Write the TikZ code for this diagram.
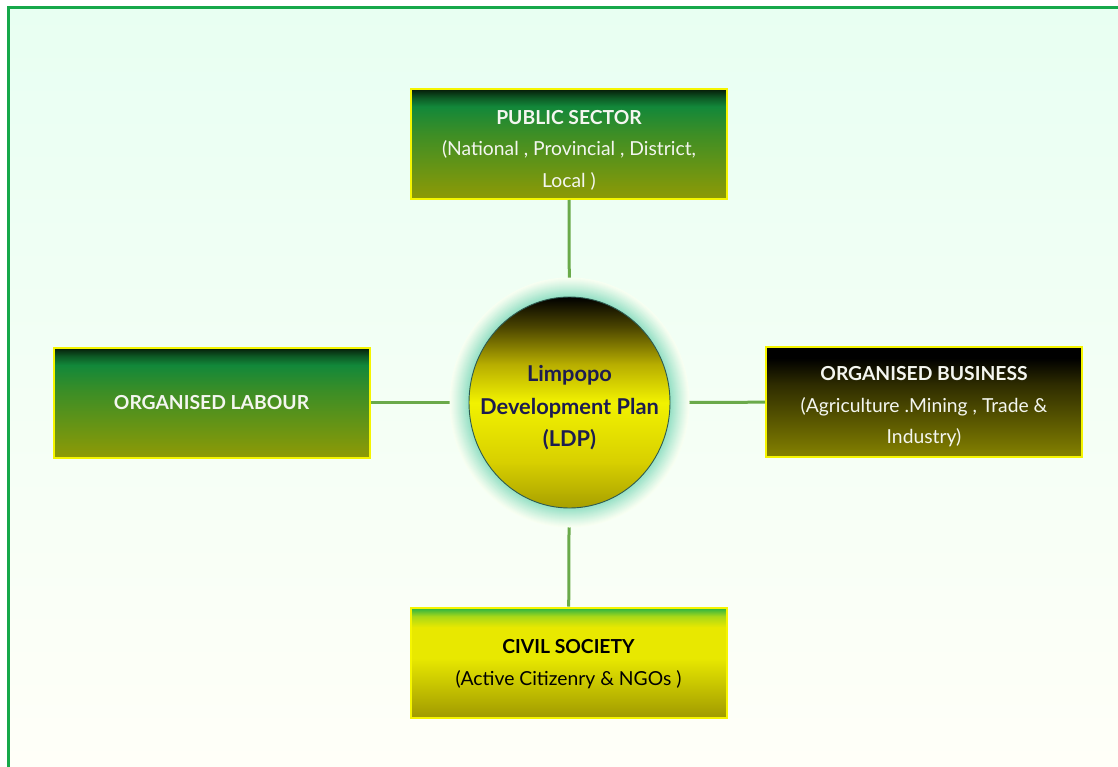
\documentclass[tikz,border=0pt]{standalone}
\usepackage{fontspec}
\setmainfont{Lato}
\usetikzlibrary{shapes.geometric}
\definecolor{bgtop}{HTML}{E8FFF2}
\definecolor{bgbot}{HTML}{FFFFF8}
\definecolor{bgmid}{HTML}{F8FFF2}
\definecolor{framegreen}{HTML}{16A84A}
\definecolor{boxborder}{HTML}{F5F500}
\definecolor{conncol}{HTML}{6AAA4A}
\definecolor{glowcol}{HTML}{8EDEC2}
\definecolor{ldpline}{HTML}{2E5A50}
\definecolor{navytext}{HTML}{1C1C50}
\definecolor{lighttext}{HTML}{F4F6F0}
\definecolor{pubtop}{HTML}{061A08}
\definecolor{pubdark}{HTML}{0D5A25}
\definecolor{pubgreen}{HTML}{12883A}
\definecolor{pubmid}{HTML}{3C8E26}
\definecolor{pubbot}{HTML}{8F9A05}
\definecolor{bustop}{HTML}{000000}
\definecolor{busmid}{HTML}{2E2C00}
\definecolor{busbot}{HTML}{858200}
\definecolor{civtop}{HTML}{20B048}
\definecolor{civmid}{HTML}{A8D818}
\definecolor{civyel}{HTML}{E8E800}
\definecolor{civbot}{HTML}{A09A00}
\definecolor{ldptop}{HTML}{000000}
\definecolor{ldpdark}{HTML}{4A4400}
\definecolor{ldpmid}{HTML}{B8AE00}
\definecolor{ldpyel}{HTML}{F2F200}
\definecolor{ldplow}{HTML}{D8D000}
\definecolor{ldpbot}{HTML}{A8A000}
\pgfdeclareverticalshading{pubshade}{100bp}{color(0bp)=(pubbot); color(25bp)=(pubbot); color(55bp)=(pubmid); color(67bp)=(pubgreen); color(71bp)=(pubdark); color(75bp)=(pubtop); color(100bp)=(pubtop)}
\pgfdeclareverticalshading{busshade}{100bp}{color(0bp)=(busbot); color(25bp)=(busbot); color(58bp)=(busmid); color(70bp)=(bustop); color(100bp)=(bustop)}
\pgfdeclareverticalshading{civshade}{100bp}{color(0bp)=(civbot); color(25bp)=(civbot); color(52bp)=(civyel); color(66bp)=(civyel); color(71bp)=(civmid); color(75bp)=(civtop); color(100bp)=(civtop)}
\pgfdeclareverticalshading{ldpshade}{100bp}{color(0bp)=(ldpbot); color(25bp)=(ldpbot); color(36bp)=(ldplow); color(50bp)=(ldpyel); color(59bp)=(ldpmid); color(68bp)=(ldpdark); color(75bp)=(ldptop); color(100bp)=(ldptop)}
\begin{document}
\begin{tikzpicture}[x=1pt,y=-1pt,
  box/.style={draw=boxborder, line width=2pt, rectangle, inner sep=0pt, minimum width=316pt, minimum height=110pt},
  conn/.style={draw=conncol, line width=3pt},
  lbl/.style={inner sep=0pt, align=center, font=\fontsize{19.3}{31.5}\selectfont},
]
\newcommand\hd[1]{{\bfseries\fontsize{19.3}{31.5}\selectfont #1}}
\useasboundingbox (0,0) rectangle (1118,767);
\clip (0,0) rectangle (1118,767);
\fill[white] (0,0) rectangle (1118,767);
\fill[top color=bgtop, bottom color=bgbot] (9,8) rectangle (1118,767);
\draw[framegreen, line width=2.5pt] (8.5,767) -- (8.5,7.5) -- (1118,7.5);

\node[box, shading=pubshade] (pub) at (569,144) {};
\node[box, shading=pubshade] (lab) at (211.5,402.5) {};
\node[box, shading=busshade] (bus) at (924,402) {};
\node[box, shading=civshade] (civ) at (568.5,662.5) {};

\node[lbl, text=lighttext] (pubt) at (569,150) {\hd{PUBLIC SECTOR}\\ (National , Provincial , District,\\ Local )};
\node[lbl, text=lighttext] (labt) at (211.5,403) {\hd{ORGANISED LABOUR}};
\node[lbl, text=lighttext] (bust) at (924,407) {\hd{ORGANISED BUSINESS}\\ (Agriculture .Mining , Trade \&\\ Industry)};
\node[lbl, text=black] (civt) at (568.5,664) {\hd{CIVIL SOCIETY}\\ (Active Citizenry \& NGOs )};

\coordinate (ldpc) at (569.5,402.5);
\draw[conn] (pub) -- (ldpc);
\draw[conn] (lab) -- (ldpc);
\draw[conn] (bus) -- (ldpc);
\draw[conn] (civ) -- (ldpc);

\foreach \i in {0,...,20}{
  \pgfmathsetmacro\p{100*(\i/20)^1.1}
  \pgfmathsetmacro\rx{120-\i}
  \pgfmathsetmacro\ry{125-\i}
  \fill[glowcol!\p!bgmid] (ldpc) ellipse [x radius=\rx pt, y radius=\ry pt];
}
\node[ellipse, draw=ldpline, line width=0.9pt, shading=ldpshade, inner sep=0pt,
  minimum width=201pt, minimum height=211pt] (ldp) at (ldpc) {};
\node[inner sep=0pt, align=center, text=navytext,
  font=\bfseries\fontsize{21.8}{32.5}\selectfont] (ldpt) at (569.5,408)
  {Limpopo\\ Development Plan\\ (LDP)};
\end{tikzpicture}
\end{document}
